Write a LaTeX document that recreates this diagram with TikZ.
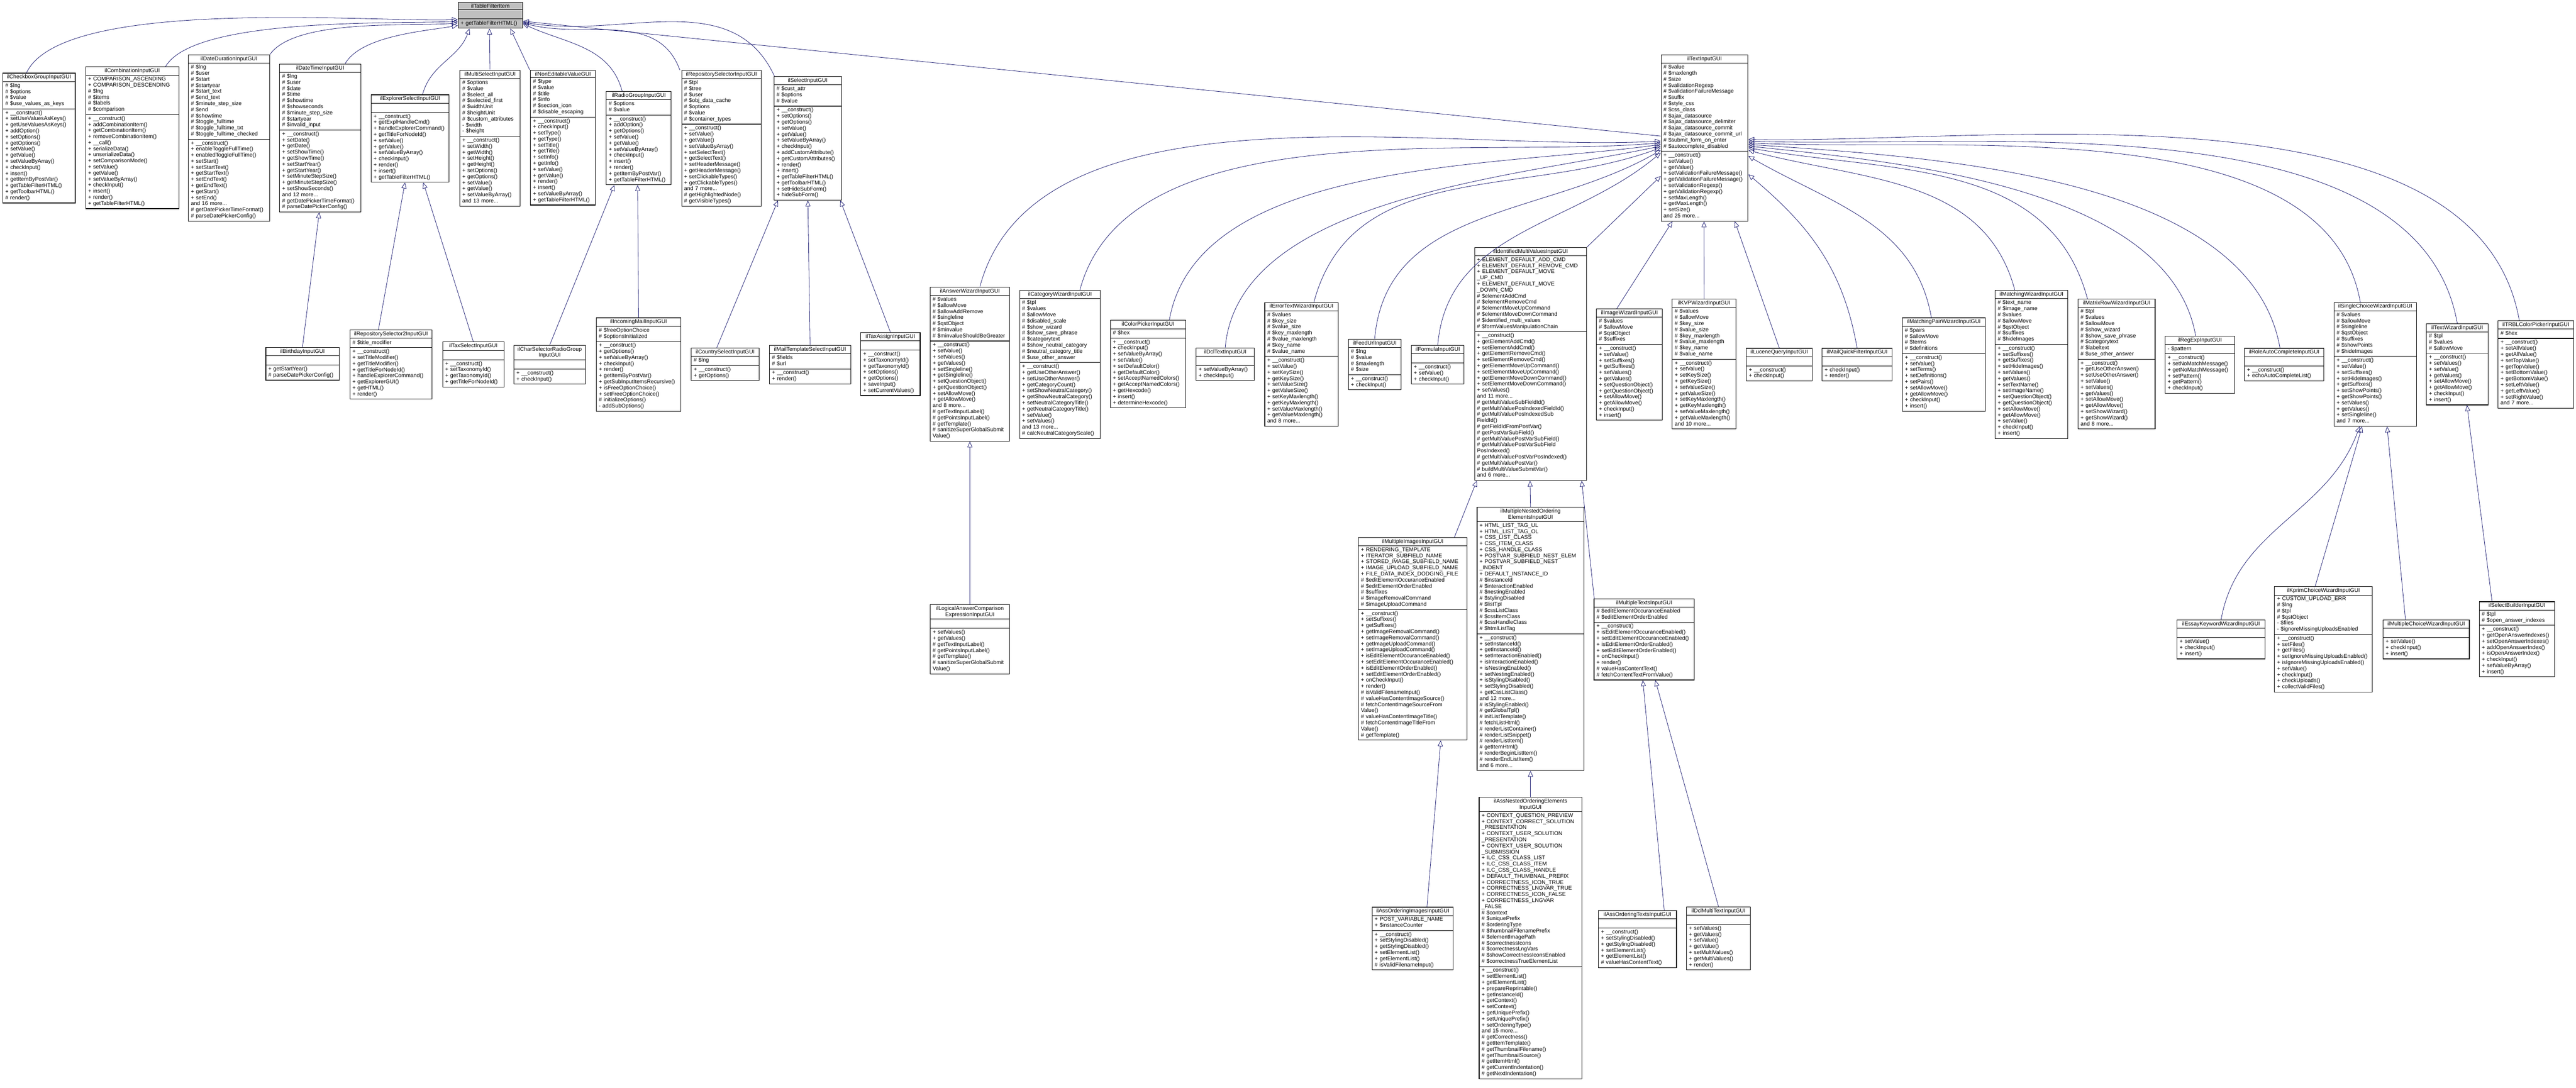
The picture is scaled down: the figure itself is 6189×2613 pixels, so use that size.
\documentclass[tikz,border=0pt]{standalone}
\usepackage{fontspec}
\setmainfont{Liberation Sans}
\usetikzlibrary{shapes.multipart,arrows.meta}
\definecolor{edgeblue}{HTML}{191970}
\tikzset{
 cls/.style={rectangle split, rectangle split parts=3, draw=black, fill=white, line width=0.7pt,
   font=\fontsize{6.6}{7.3}\selectfont, inner xsep=3pt, inner ysep=1.6pt, align=left, anchor=north west},
 inh/.style={draw=edgeblue, line width=0.5pt, -{Triangle[open,length=7pt,width=6pt]}}
}
\newcommand\cl[8][]{\node[cls,#1, text width=\dimexpr #5pt/2-6pt\relax] (#2) at (#3,#4) {\centering #6\par\nodepart{two}#7\strut\nodepart{three}#8\strut};}
\begin{document}
\begin{tikzpicture}[x=0.5pt,y=-0.5pt]
\useasboundingbox (0,0) rectangle (6189,2613);
% root
\cl[fill=black!25]{tfi}{1100}{5}{155}{ilTableFilterItem}{}{+ getTableFilterHTML()}
% level 1 under tfi
\cl{chk}{6}{175}{174}{ilCheckboxGroupInputGUI}{\# \$lng\\\# \$options\\\# \$value\\\# \$use\_values\_as\_keys}{+ \_\_construct()\\+ setUseValuesAsKeys()\\+ getUseValuesAsKeys()\\+ addOption()\\+ setOptions()\\+ getOptions()\\+ setValue()\\+ getValue()\\+ setValueByArray()\\+ checkInput()\\+ insert()\\+ getItemByPostVar()\\+ getTableFilterHTML()\\+ getToolbarHTML()\\\# render()}
\cl{comb}{205}{160}{224}{ilCombinationInputGUI}{+ COMPARISON\_ASCENDING\\+ COMPARISON\_DESCENDING\\\# \$lng\\\# \$items\\\# \$labels\\\# \$comparison}{+ \_\_construct()\\+ addCombinationItem()\\+ getCombinationItem()\\+ removeCombinationItem()\\+ \_\_call()\\+ serializeData()\\+ unserializeData()\\+ setComparisonMode()\\+ setValue()\\+ getValue()\\+ setValueByArray()\\+ checkInput()\\+ insert()\\+ render()\\+ getTableFilterHTML()}
\cl{dd}{452}{131}{195}{ilDateDurationInputGUI}{\# \$lng\\\# \$user\\\# \$start\\\# \$startyear\\\# \$start\_text\\\# \$end\_text\\\# \$minute\_step\_size\\\# \$end\\\# \$showtime\\\# \$toggle\_fulltime\\\# \$toggle\_fulltime\_txt\\\# \$toggle\_fulltime\_checked}{+ \_\_construct()\\+ enableToggleFullTime()\\+ enabledToggleFullTime()\\+ setStart()\\+ setStartText()\\+ getStartText()\\+ setEndText()\\+ getEndText()\\+ getStart()\\+ setEnd()\\and 16 more...\\\# getDatePickerTimeFormat()\\\# parseDatePickerConfig()}
\cl{dt}{671}{153}{195}{ilDateTimeInputGUI}{\# \$lng\\\# \$user\\\# \$date\\\# \$time\\\# \$showtime\\\# \$showseconds\\\# \$minute\_step\_size\\\# \$startyear\\\# \$invalid\_input}{+ \_\_construct()\\+ setDate()\\+ getDate()\\+ setShowTime()\\+ getShowTime()\\+ setStartYear()\\+ getStartYear()\\+ setMinuteStepSize()\\+ getMinuteStepSize()\\+ setShowSeconds()\\and 12 more...\\\# getDatePickerTimeFormat()\\\# parseDatePickerConfig()}
\cl{exp}{891}{227}{187}{ilExplorerSelectInputGUI}{}{+ \_\_construct()\\+ getExplHandleCmd()\\+ handleExplorerCommand()\\+ getTitleForNodeId()\\+ setValue()\\+ getValue()\\+ setValueByArray()\\+ checkInput()\\+ render()\\+ insert()\\+ getTableFilterHTML()}
\cl{ms}{1104}{168}{145}{ilMultiSelectInputGUI}{\# \$options\\\# \$value\\\# \$select\_all\\\# \$selected\_first\\\# \$widthUnit\\\# \$heightUnit\\\# \$custom\_attributes\\- \$width\\- \$height}{+ \_\_construct()\\+ setWidth()\\+ getWidth()\\+ setHeight()\\+ getHeight()\\+ setOptions()\\+ getOptions()\\+ setValue()\\+ getValue()\\+ setValueByArray()\\and 13 more...}
\cl{ne}{1274}{168}{156}{ilNonEditableValueGUI}{\# \$type\\\# \$value\\\# \$title\\\# \$info\\\# \$section\_icon\\\# \$disable\_escaping}{+ \_\_construct()\\+ checkInput()\\+ setType()\\+ getType()\\+ setTitle()\\+ getTitle()\\+ setInfo()\\+ getInfo()\\+ setValue()\\+ getValue()\\+ render()\\+ insert()\\+ setValueByArray()\\+ getTableFilterHTML()}
\cl{rg}{1456}{219}{156}{ilRadioGroupInputGUI}{\# \$options\\\# \$value}{+ \_\_construct()\\+ addOption()\\+ getOptions()\\+ setValue()\\+ getValue()\\+ setValueByArray()\\+ checkInput()\\+ insert()\\+ render()\\+ getItemByPostVar()\\+ getTableFilterHTML()}
\cl{rs}{1637}{168}{191}{ilRepositorySelectorInputGUI}{\# \$tpl\\\# \$tree\\\# \$user\\\# \$obj\_data\_cache\\\# \$options\\\# \$value\\\# \$container\_types}{+ \_\_construct()\\+ setValue()\\+ getValue()\\+ setValueByArray()\\+ setSelectText()\\+ getSelectText()\\+ setHeaderMessage()\\+ getHeaderMessage()\\+ setClickableTypes()\\+ getClickableTypes()\\and 7 more...\\\# getHighlightedNode()\\\# getVisibleTypes()}
\cl{sel}{1859}{183}{162}{ilSelectInputGUI}{\# \$cust\_attr\\\# \$options\\\# \$value}{+ \_\_construct()\\+ setOptions()\\+ getOptions()\\+ setValue()\\+ getValue()\\+ setValueByArray()\\+ checkInput()\\+ addCustomAttribute()\\+ getCustomAttributes()\\+ render()\\+ insert()\\+ getTableFilterHTML()\\+ getToolbarHTML()\\+ setHideSubForm()\\+ hideSubForm()}
\cl{ti}{3990}{131}{209}{ilTextInputGUI}{\# \$value\\\# \$maxlength\\\# \$size\\\# \$validationRegexp\\\# \$validationFailureMessage\\\# \$suffix\\\# \$style\_css\\\# \$css\_class\\\# \$ajax\_datasource\\\# \$ajax\_datasource\_delimiter\\\# \$ajax\_datasource\_commit\\\# \$ajax\_datasource\_commit\_url\\\# \$submit\_form\_on\_enter\\\# \$autocomplete\_disabled}{+ \_\_construct()\\+ setValue()\\+ getValue()\\+ setValidationFailureMessage()\\+ getValidationFailureMessage()\\+ setValidationRegexp()\\+ getValidationRegexp()\\+ setMaxLength()\\+ getMaxLength()\\+ setSize()\\and 25 more...}
% level 2
\cl{bd}{638}{834}{176}{ilBirthdayInputGUI}{}{+ getStartYear()\\\# parseDatePickerConfig()}
\cl{rs2}{840}{792}{197}{ilRepositorySelector2InputGUI}{\# \$title\_modifier}{+ \_\_construct()\\+ setTitleModifier()\\+ getTitleModifier()\\+ getTitleForNodeId()\\+ handleExplorerCommand()\\+ getExplorerGUI()\\+ getHTML()\\+ render()}
\cl{tsel}{1063}{821}{147}{ilTaxSelectInputGUI}{}{+ \_\_construct()\\+ setTaxonomyId()\\+ getTaxonomyId()\\+ getTitleForNodeId()}
\cl{csr}{1234}{829}{172}{ilCharSelectorRadioGroup\\InputGUI}{}{+ \_\_construct()\\+ checkInput()}
\cl{imail}{1432}{763}{203}{ilIncomingMailInputGUI}{\# \$freeOptionChoice\\\# \$optionsInitialized}{+ \_\_construct()\\+ getOptions()\\+ setValueByArray()\\+ checkInput()\\+ render()\\+ getItemByPostVar()\\+ getSubInputItemsRecursive()\\+ isFreeOptionChoice()\\+ setFreeOptionChoice()\\\# initializeOptions()\\- addSubOptions()}
\cl{csel}{1660}{835}{163}{ilCountrySelectInputGUI}{\# \$lng}{+ \_\_construct()\\+ getOptions()}
\cl{mts}{1848}{829}{195}{ilMailTemplateSelectInputGUI}{\# \$fields\\\# \$url}{+ \_\_construct()\\+ render()}
\cl{tax}{2067}{798}{143}{ilTaxAssignInputGUI}{}{+ \_\_construct()\\+ setTaxonomyId()\\+ getTaxonomyId()\\+ setOptions()\\+ getOptions()\\+ saveInput()\\+ setCurrentValues()}
\cl{aw}{2234}{689}{191}{ilAnswerWizardInputGUI}{\# \$values\\\# \$allowMove\\\# \$allowAddRemove\\\# \$singleline\\\# \$qstObject\\\# \$minvalue\\\# \$minvalueShouldBeGreater}{+ \_\_construct()\\+ setValue()\\+ setValues()\\+ getValues()\\+ setSingleline()\\+ getSingleline()\\+ setQuestionObject()\\+ getQuestionObject()\\+ setAllowMove()\\+ getAllowMove()\\and 8 more...\\\# getTextInputLabel()\\\# getPointsInputLabel()\\\# getTemplate()\\\# sanitizeSuperGlobalSubmit\\Value()}
\cl{cw}{2449}{697}{194}{ilCategoryWizardInputGUI}{\# \$tpl\\\# \$values\\\# \$allowMove\\\# \$disabled\_scale\\\# \$show\_wizard\\\# \$show\_save\_phrase\\\# \$categorytext\\\# \$show\_neutral\_category\\\# \$neutral\_category\_title\\\# \$use\_other\_answer}{+ \_\_construct()\\+ getUseOtherAnswer()\\+ setUseOtherAnswer()\\+ getCategoryCount()\\+ setShowNeutralCategory()\\+ getShowNeutralCategory()\\+ setNeutralCategoryTitle()\\+ getNeutralCategoryTitle()\\+ setValue()\\+ setValues()\\and 13 more...\\\# calcNeutralCategoryScale()}
\cl{cp}{2667}{769}{181}{ilColorPickerInputGUI}{\# \$hex}{+ \_\_construct()\\+ checkInput()\\+ setValueByArray()\\+ setValue()\\+ setDefaultColor()\\+ getDefaultColor()\\+ setAcceptNamedColors()\\+ getAcceptNamedColors()\\+ getHexcode()\\+ insert()\\+ determineHexcode()}
\cl{dcl}{2873}{835}{140}{ilDclTextInputGUI}{}{+ setValueByArray()\\+ checkInput()}
\cl{etw}{3038}{726}{176}{ilErrorTextWizardInputGUI}{\# \$values\\\# \$key\_size\\\# \$value\_size\\\# \$key\_maxlength\\\# \$value\_maxlength\\\# \$key\_name\\\# \$value\_name}{+ \_\_construct()\\+ setValue()\\+ setKeySize()\\+ getKeySize()\\+ setValueSize()\\+ getValueSize()\\+ setKeyMaxlength()\\+ getKeyMaxlength()\\+ setValueMaxlength()\\+ getValueMaxlength()\\and 8 more...}
\cl{feed}{3239}{814}{126}{ilFeedUrlInputGUI}{\# \$lng\\\# \$value\\\# \$maxlength\\\# \$size}{+ \_\_construct()\\+ checkInput()}
\cl{form}{3390}{829}{127}{ilFormulaInputGUI}{}{+ \_\_construct()\\+ setValue()\\+ checkInput()}
\cl{imv}{3542}{594}{269}{ilIdentifiedMultiValuesInputGUI}{+ ELEMENT\_DEFAULT\_ADD\_CMD\\+ ELEMENT\_DEFAULT\_REMOVE\_CMD\\+ ELEMENT\_DEFAULT\_MOVE\\\_UP\_CMD\\+ ELEMENT\_DEFAULT\_MOVE\\\_DOWN\_CMD\\\# \$elementAddCmd\\\# \$elementRemoveCmd\\\# \$elementMoveUpCommand\\\# \$elementMoveDownCommand\\\# \$identified\_multi\_values\\\# \$formValuesManipulationChain}{+ \_\_construct()\\+ getElementAddCmd()\\+ setElementAddCmd()\\+ getElementRemoveCmd()\\+ setElementRemoveCmd()\\+ getElementMoveUpCommand()\\+ setElementMoveUpCommand()\\+ getElementMoveDownCommand()\\+ setElementMoveDownCommand()\\+ setValues()\\and 11 more...\\\# getMultiValueSubFieldId()\\\# getMultiValuePosIndexedFieldId()\\\# getMultiValuePosIndexedSub\\FieldId()\\\# getFieldIdFromPostVar()\\\# getPostVarSubField()\\\# getMultiValuePostVarSubField()\\\# getMultiValuePostVarSubField\\PosIndexed()\\\# getMultiValuePostVarPosIndexed()\\\# getMultiValuePostVar()\\\# buildMultiValueSubmitVar()\\and 6 more...}
\cl{iw}{3835}{741}{158}{ilImageWizardInputGUI}{\# \$values\\\# \$allowMove\\\# \$qstObject\\\# \$suffixes}{+ \_\_construct()\\+ setValue()\\+ setSuffixes()\\+ getSuffixes()\\+ setValues()\\+ getValues()\\+ setQuestionObject()\\+ getQuestionObject()\\+ setAllowMove()\\+ getAllowMove()\\+ checkInput()\\+ insert()}
\cl{kvp}{4017}{718}{153}{ilKVPWizardInputGUI}{\# \$values\\\# \$allowMove\\\# \$key\_size\\\# \$value\_size\\\# \$key\_maxlength\\\# \$value\_maxlength\\\# \$key\_name\\\# \$value\_name}{+ \_\_construct()\\+ setValue()\\+ setKeySize()\\+ getKeySize()\\+ setValueSize()\\+ getValueSize()\\+ setKeyMaxlength()\\+ getKeyMaxlength()\\+ setValueMaxlength()\\+ getValueMaxlength()\\and 10 more...}
\cl{luc}{4195}{836}{158}{ilLuceneQueryInputGUI}{}{+ \_\_construct()\\+ checkInput()}
\cl{mqf}{4377}{836}{168}{ilMailQuickFilterInputGUI}{}{+ checkInput()\\+ render()}
\cl{mpw}{4570}{763}{199}{ilMatchingPairWizardInputGUI}{\# \$pairs\\\# \$allowMove\\\# \$terms\\\# \$definitions}{+ \_\_construct()\\+ setValue()\\+ setTerms()\\+ setDefinitions()\\+ setPairs()\\+ setAllowMove()\\+ getAllowMove()\\+ checkInput()\\+ insert()}
\cl{mw}{4793}{697}{174}{ilMatchingWizardInputGUI}{\# \$text\_name\\\# \$image\_name\\\# \$values\\\# \$allowMove\\\# \$qstObject\\\# \$suffixes\\\# \$hideImages}{+ \_\_construct()\\+ setSuffixes()\\+ getSuffixes()\\+ setHideImages()\\+ setValues()\\+ getValues()\\+ setTextName()\\+ setImageName()\\+ setQuestionObject()\\+ getQuestionObject()\\+ setAllowMove()\\+ getAllowMove()\\+ setValue()\\+ checkInput()\\+ insert()}
\cl{mrw}{4992}{718}{185}{ilMatrixRowWizardInputGUI}{\# \$tpl\\\# \$values\\\# \$allowMove\\\# \$show\_wizard\\\# \$show\_save\_phrase\\\# \$categorytext\\\# \$labeltext\\\# \$use\_other\_answer}{+ \_\_construct()\\+ getUseOtherAnswer()\\+ setUseOtherAnswer()\\+ setValue()\\+ setValues()\\+ getValues()\\+ setAllowMove()\\+ getAllowMove()\\+ setShowWizard()\\+ getShowWizard()\\and 8 more...}
\cl{rx}{5201}{807}{167}{ilRegExpInputGUI}{- \$pattern}{+ \_\_construct()\\+ setNoMatchMessage()\\+ getNoMatchMessage()\\+ setPattern()\\+ getPattern()\\+ checkInput()}
\cl{rac}{5392}{836}{190}{ilRoleAutoCompleteInputGUI}{}{+ \_\_construct()\\+ echoAutoCompleteList()}
\cl{scw}{5607}{726}{198}{ilSingleChoiceWizardInputGUI}{\# \$values\\\# \$allowMove\\\# \$singleline\\\# \$qstObject\\\# \$suffixes\\\# \$showPoints\\\# \$hideImages}{+ \_\_construct()\\+ setValue()\\+ setSuffixes()\\+ setHideImages()\\+ getSuffixes()\\+ setShowPoints()\\+ getShowPoints()\\+ setValues()\\+ getValues()\\+ setSingleline()\\and 7 more...}
\cl{tw}{5829}{777}{148}{ilTextWizardInputGUI}{\# \$tpl\\\# \$values\\\# \$allowMove}{+ \_\_construct()\\+ setValues()\\+ setValue()\\+ getValues()\\+ setAllowMove()\\+ getAllowMove()\\+ checkInput()\\+ insert()}
\cl{trbl}{6001}{770}{182}{ilTRBLColorPickerInputGUI}{\# \$hex}{+ \_\_construct()\\+ setAllValue()\\+ getAllValue()\\+ setTopValue()\\+ getTopValue()\\+ setBottomValue()\\+ getBottomValue()\\+ setLeftValue()\\+ getLeftValue()\\+ setRightValue()\\and 7 more...}
% level 3+
\cl{lac}{2234}{1452}{191}{ilLogicalAnswerComparison\\ExpressionInputGUI}{}{+ setValues()\\+ getValues()\\\# getTextInputLabel()\\\# getPointsInputLabel()\\\# getTemplate()\\\# sanitizeSuperGlobalSubmit\\Value()}
\cl{mii}{3263}{1291}{261}{ilMultipleImagesInputGUI}{+ RENDERING\_TEMPLATE\\+ ITERATOR\_SUBFIELD\_NAME\\+ STORED\_IMAGE\_SUBFIELD\_NAME\\+ IMAGE\_UPLOAD\_SUBFIELD\_NAME\\+ FILE\_DATA\_INDEX\_DODGING\_FILE\\\# \$editElementOccuranceEnabled\\\# \$editElementOrderEnabled\\\# \$suffixes\\\# \$imageRemovalCommand\\\# \$imageUploadCommand}{+ \_\_construct()\\+ setSuffixes()\\+ getSuffixes()\\+ getImageRemovalCommand()\\+ setImageRemovalCommand()\\+ getImageUploadCommand()\\+ setImageUploadCommand()\\+ isEditElementOccuranceEnabled()\\+ setEditElementOccuranceEnabled()\\+ isEditElementOrderEnabled()\\+ setEditElementOrderEnabled()\\+ onCheckInput()\\+ render()\\\# isValidFilenameInput()\\\# valueHasContentImageSource()\\\# fetchContentImageSourceFrom\\Value()\\\# valueHasContentImageTitle()\\\# fetchContentImageTitleFrom\\Value()\\\# getTemplate()}
\cl{mno}{3548}{1218}{257}{ilMultipleNestedOrdering\\ElementsInputGUI}{+ HTML\_LIST\_TAG\_UL\\+ HTML\_LIST\_TAG\_OL\\+ CSS\_LIST\_CLASS\\+ CSS\_ITEM\_CLASS\\+ CSS\_HANDLE\_CLASS\\+ POSTVAR\_SUBFIELD\_NEST\_ELEM\\+ POSTVAR\_SUBFIELD\_NEST\\\_INDENT\\+ DEFAULT\_INSTANCE\_ID\\\# \$instanceId\\\# \$interactionEnabled\\\# \$nestingEnabled\\\# \$stylingDisabled\\\# \$listTpl\\\# \$cssListClass\\\# \$cssItemClass\\\# \$cssHandleClass\\\# \$htmlListTag}{+ \_\_construct()\\+ setInstanceId()\\+ getInstanceId()\\+ setInteractionEnabled()\\+ isInteractionEnabled()\\+ isNestingEnabled()\\+ setNestingEnabled()\\+ isStylingDisabled()\\+ setStylingDisabled()\\+ getCssListClass()\\and 12 more...\\\# isStylingEnabled()\\\# getGlobalTpl()\\\# initListTemplate()\\\# fetchListHtml()\\\# renderListContainer()\\\# renderListSnippet()\\\# renderListItem()\\\# getItemHtml()\\\# renderBeginListItem()\\\# renderEndListItem()\\and 6 more...}
\cl{mt}{3829}{1438}{241}{ilMultipleTextsInputGUI}{\# \$editElementOccuranceEnabled\\\# \$editElementOrderEnabled}{+ \_\_construct()\\+ isEditElementOccuranceEnabled()\\+ setEditElementOccuranceEnabled()\\+ isEditElementOrderEnabled()\\+ setEditElementOrderEnabled()\\+ onCheckInput()\\+ render()\\\# valueHasContentText()\\\# fetchContentTextFromValue()}
\cl{aoi}{3296}{2179}{195}{ilAssOrderingImagesInputGUI}{+ POST\_VARIABLE\_NAME\\+ \$instanceCounter}{+ \_\_construct()\\+ setStylingDisabled()\\+ getStylingDisabled()\\+ setElementList()\\+ getElementList()\\\# isValidFilenameInput()}
\cl{ano}{3553}{1915}{247}{ilAssNestedOrderingElements\\InputGUI}{+ CONTEXT\_QUESTION\_PREVIEW\\+ CONTEXT\_CORRECT\_SOLUTION\\\_PRESENTATION\\+ CONTEXT\_USER\_SOLUTION\\\_PRESENTATION\\+ CONTEXT\_USER\_SOLUTION\\\_SUBMISSION\\+ ILC\_CSS\_CLASS\_LIST\\+ ILC\_CSS\_CLASS\_ITEM\\+ ILC\_CSS\_CLASS\_HANDLE\\+ DEFAULT\_THUMBNAIL\_PREFIX\\+ CORRECTNESS\_ICON\_TRUE\\+ CORRECTNESS\_LNGVAR\_TRUE\\+ CORRECTNESS\_ICON\_FALSE\\+ CORRECTNESS\_LNGVAR\\\_FALSE\\\# \$context\\\# \$uniquePrefix\\\# \$orderingType\\\# \$thumbnailFilenamePrefix\\\# \$elementImagePath\\\# \$correctnessIcons\\\# \$correctnessLngVars\\\# \$showCorrectnessIconsEnabled\\\# \$correctnessTrueElementList}{+ \_\_construct()\\+ setElementList()\\+ getElementList()\\+ prepareReprintable()\\+ getInstanceId()\\+ getContext()\\+ setContext()\\+ getUniquePrefix()\\+ setUniquePrefix()\\+ setOrderingType()\\and 15 more...\\\# getCorrectness()\\\# getItemTemplate()\\\# getThumbnailFilename()\\\# getThumbnailSource()\\\# getItemHtml()\\\# getCurrentIndentation()\\\# getNextIndentation()}
\cl{aot}{3840}{2187}{187}{ilAssOrderingTextsInputGUI}{}{+ \_\_construct()\\+ setStylingDisabled()\\+ getStylingDisabled()\\+ setElementList()\\+ getElementList()\\\# valueHasContentText()}
\cl{dmt}{4051}{2178}{154}{ilDclMultiTextInputGUI}{}{+ setValues()\\+ getValues()\\+ setValue()\\+ getValue()\\+ setMultiValues()\\+ getMultiValues()\\+ render()}
\cl{ekw}{5230}{1489}{211}{ilEssayKeywordWizardInputGUI}{}{+ setValue()\\+ checkInput()\\+ insert()}
\cl{kpr}{5464}{1409}{235}{ilKprimChoiceWizardInputGUI}{+ CUSTOM\_UPLOAD\_ERR\\\# \$lng\\\# \$tpl\\\# \$qstObject\\- \$files\\- \$ignoreMissingUploadsEnabled}{+ \_\_construct()\\+ setFiles()\\+ getFiles()\\+ setIgnoreMissingUploadsEnabled()\\+ isIgnoreMissingUploadsEnabled()\\+ setValue()\\+ checkInput()\\+ checkUploads()\\+ collectValidFiles()}
\cl{mcw}{5725}{1489}{207}{ilMultipleChoiceWizardInputGUI}{}{+ setValue()\\+ checkInput()\\+ insert()}
\cl{sb}{5956}{1445}{181}{ilSelectBuilderInputGUI}{\# \$tpl\\\# \$open\_answer\_indexes}{+ \_\_construct()\\+ getOpenAnswerIndexes()\\+ setOpenAnswerIndexes()\\+ addOpenAnswerIndex()\\+ isOpenAnswerIndex()\\+ checkInput()\\+ setValueByArray()\\+ insert()}
% ---- edges to ilTableFilterItem
\draw[inh] ([xshift=-15pt]chk.north) to[out=65,in=182,looseness=0.5] ([yshift=-21pt]tfi.north west);
\draw[inh] ([xshift=40pt]comb.north) to[out=60,in=183,looseness=0.5] ([yshift=-23pt]tfi.north west);
\draw[inh] (dd.north east) to[out=55,in=185,looseness=0.6] ([yshift=-25pt]tfi.north west);
\draw[inh] ([xshift=30pt]dt.north) to[out=60,in=190,looseness=0.7] ([yshift=-28pt]tfi.north west);
\draw[inh] ([xshift=15pt]exp.north) to[out=75,in=250] ([xshift=14pt]tfi.south west);
\draw[inh] (ms.north) -- ([xshift=38pt]tfi.south west);
\draw[inh] ([xshift=-40pt]ne.north) -- ([xshift=63pt]tfi.south west);
\draw[inh] ([xshift=-20pt]rg.north) to[out=105,in=-25] ([yshift=-26pt]tfi.north east);
\draw[inh] ([xshift=-50pt]rs.north) to[out=110,in=-15] ([yshift=-25pt]tfi.north east);
\draw[inh] ([xshift=-40pt]sel.north) to[out=115,in=-10] ([yshift=-24pt]tfi.north east);
\draw[inh] ([yshift=-98pt]ti.north west) -- ([yshift=-23pt]tfi.north east);
% ---- level 2 edges
\draw[inh] (bd.north) -- ([xshift=48pt]dt.south west);
\draw[inh] ([xshift=-15pt]rs2.north) -- ([xshift=41pt]exp.south west);
\draw[inh] (tsel.north) -- ([xshift=63pt]exp.south west);
\draw[inh] (csr.north) -- ([xshift=10pt]rg.south west);
\draw[inh] (imail.north) -- ([xshift=38pt]rg.south west);
\draw[inh] ([xshift=-10pt]csel.north) -- ([xshift=5pt]sel.south west);
\draw[inh] (mts.north) -- ([xshift=41pt]sel.south west);
\draw[inh] (tax.north) -- ([xshift=80pt]sel.south west);
% ---- children of ilTextInputGUI (left side)
\draw[inh] ([xshift=12pt]aw.north) to[out=75,in=183,looseness=0.8] ([yshift=-104pt]ti.north west);
\draw[inh] ([xshift=-25pt]cw.north east) to[out=75,in=185,looseness=0.8] ([yshift=-106pt]ti.north west);
\draw[inh] ([xshift=-20pt]cp.north east) to[out=80,in=188,looseness=0.8] ([yshift=-108pt]ti.north west);
\draw[inh] (dcl.north) to[out=85,in=192,looseness=0.8] ([yshift=-110pt]ti.north west);
\draw[inh] ([xshift=15pt]etw.north) to[out=75,in=200] ([yshift=-112pt]ti.north west);
\draw[inh] (feed.north) to[out=85,in=210] ([yshift=-115pt]ti.north west);
\draw[inh] (form.north) to[out=85,in=220] ([yshift=-118pt]ti.north west);
\draw[inh] (imv.north east) -- ([yshift=-146pt]ti.north west);
\draw[inh] ([xshift=-15pt]iw.north) -- ([xshift=14pt]ti.south west);
\draw[inh] (kvp.north) -- ([xshift=52pt]ti.south west);
\draw[inh] (luc.north) -- ([xshift=89pt]ti.south west);
% right side
\draw[inh] (mqf.north) to[out=100,in=-40] ([yshift=-144pt]ti.north east);
\draw[inh] ([xshift=-15pt]mpw.north) to[out=100,in=-30] ([yshift=-122pt]ti.north east);
\draw[inh] ([xshift=-20pt]mw.north) to[out=105,in=-15] ([yshift=-115pt]ti.north east);
\draw[inh] ([xshift=-35pt]mrw.north) to[out=105,in=-10] ([yshift=-112pt]ti.north east);
\draw[inh] ([xshift=-5pt]rx.north) to[out=100,in=-6,looseness=0.8] ([yshift=-110pt]ti.north east);
\draw[inh] ([xshift=-5pt]rac.north) to[out=100,in=-4,looseness=0.8] ([yshift=-108pt]ti.north east);
\draw[inh] ([xshift=-18pt]scw.north) to[out=100,in=-3,looseness=0.8] ([yshift=-106pt]ti.north east);
\draw[inh] (tw.north) to[out=100,in=-2,looseness=0.8] ([yshift=-104pt]ti.north east);
\draw[inh] ([xshift=-20pt]trbl.north) to[out=100,in=-1,looseness=0.8] ([yshift=-102pt]ti.north east);
% ---- deeper
\draw[inh] (lac.north) -- (aw.south);
\draw[inh] ([xshift=50pt]mii.north) -- ([xshift=3pt]imv.south west);
\draw[inh] (mno.north) -- ([xshift=67pt]imv.south west);
\draw[inh] ([xshift=-60pt]mt.north) -- ([xshift=129pt]imv.south west);
\draw[inh] ([xshift=-32pt]aoi.north east) -- ([xshift=-32pt]mii.south east);
\draw[inh] (ano.north) -- (mno.south);
\draw[inh] ([xshift=-15pt]aot.north east) -- ([xshift=59pt]mt.south west);
\draw[inh] (dmt.north) -- ([xshift=74pt]mt.south west);
\draw[inh] (ekw.north) to[out=80,in=-110] ([xshift=31pt]scw.south west);
\draw[inh] ([xshift=-10pt]kpr.north) -- ([xshift=34pt]scw.south west);
\draw[inh] ([xshift=-25pt]mcw.north) -- ([xshift=64pt]scw.south west);
\draw[inh] ([xshift=-30pt]sb.north) -- ([xshift=49pt]tw.south west);
\end{tikzpicture}
\end{document}
